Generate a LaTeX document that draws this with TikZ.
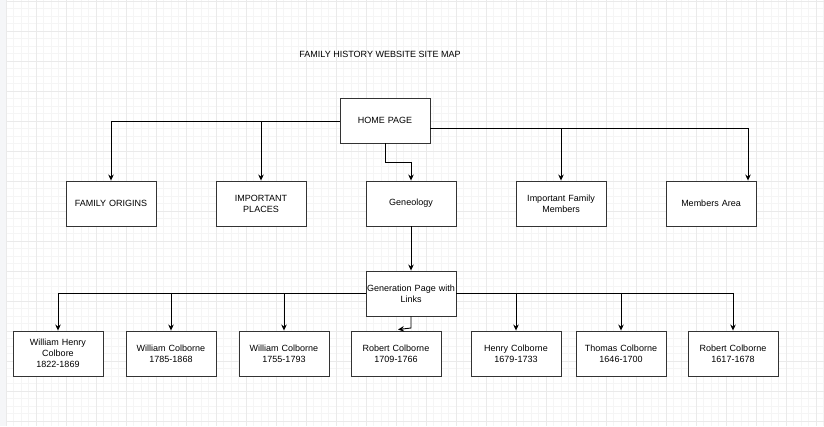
\documentclass[tikz,border=0pt]{standalone}
\usepackage{fontspec}
\setmainfont{Liberation Sans}
\usetikzlibrary{arrows.meta,calc}
\definecolor{gridminor}{HTML}{F5F5F5}
\definecolor{gridmajor}{HTML}{EAEAEA}
\definecolor{sidestrip}{HTML}{F5F6F8}
\definecolor{boxline}{HTML}{333333}
\tikzset{
  pagebox/.style={draw=boxline, line width=0.9pt, fill=white, minimum width=90pt, minimum height=45pt,
    inner sep=1pt, align=center, text width=88pt, font=\fontsize{9}{11}\selectfont},
  link/.style={draw=black, line width=0.9pt, -{Stealth[length=6pt,width=5.5pt]}},
}
\begin{document}
\begin{tikzpicture}[x=1pt,y=-1pt]
\useasboundingbox (0,0) rectangle (824,426);
\fill[white] (0,0) rectangle (824,426);
% grid
\foreach \i in {0,...,109} {
  \draw[gridminor, line width=0.6pt] ({6+7.5*\i},0) -- ({6+7.5*\i},426);
}
\foreach \j in {0,...,57} {
  \draw[gridminor, line width=0.6pt] (6,{1+7.5*\j}) -- (824,{1+7.5*\j});
}
\foreach \i in {0,...,27} {
  \draw[gridmajor, line width=0.7pt] ({6+30*\i},0) -- ({6+30*\i},426);
}
\foreach \j in {0,...,14} {
  \draw[gridmajor, line width=0.7pt] (6,{1+30*\j}) -- (824,{1+30*\j});
}
\fill[sidestrip] (0,0) rectangle (6,426);

% title
\node[font=\fontsize{9}{11}\selectfont] (title) at (380,54) {FAMILY HISTORY WEBSITE SITE MAP};

% level 0
\node[pagebox] (home) at (385,120.5) {HOME PAGE};
% level 1
\node[pagebox] (origins) at (111,203.5) {FAMILY ORIGINS};
\node[pagebox] (places) at (261,203.5) {IMPORTANT\\PLACES};
\node[pagebox] (gen) at (411,203.5) {Geneology};
\node[pagebox] (members) at (561,203.5) {Important Family\\Members};
\node[pagebox] (area) at (711,203.5) {Members Area};
% level 2
\node[pagebox] (genpage) at (411,293.5) {Generation Page with\\Links};
% level 3
\node[pagebox] (p1) at (58,353.5) {William Henry\\Colbore\\1822-1869};
\node[pagebox] (p2) at (171,353.5) {William Colborne\\1785-1868};
\node[pagebox] (p3) at (284,353.5) {William Colborne\\1755-1793};
\node[pagebox] (p4) at (396,353.5) {Robert Colborne\\1709-1766};
\node[pagebox] (p5) at (516,353.5) {Henry Colborne\\1679-1733};
\node[pagebox] (p6) at (621,353.5) {Thomas Colborne\\1646-1700};
\node[pagebox] (p7) at (733,353.5) {Robert Colborne\\1617-1678};

% connectors from home
\coordinate (hl) at (home.west |- 0,121);
\coordinate (hr) at (home.east |- 0,128);
\draw[link] (hl) -| (origins.north);
\draw[link] (hl) -| (places.north);
\draw[link] (hr) -| (members.north);
\draw[link] (hr) -| ($(area.north)+(37,0)$);
\coordinate (hb) at (385,162);
\draw[link] (home.south) -- (hb) -| (gen.north);

% geneology to generation page
\draw[link] (gen.south) -- (genpage.north);

% generation page to people
\coordinate (gl) at (genpage.west);
\coordinate (gr) at (genpage.east);
\draw[link] (gl) -| (p1.north);
\draw[link] (gl) -| (p2.north);
\draw[link] (gl) -| (p3.north);
\draw[link] (gr) -| (p5.north);
\draw[link] (gr) -| (p6.north);
\draw[link] (gr) -| (p7.north);
\coordinate (gb) at (411,328);
\draw[link] (genpage.south) -- (gb) -- ($(p4.north)+(2,-1)$);
\end{tikzpicture}
\end{document}
